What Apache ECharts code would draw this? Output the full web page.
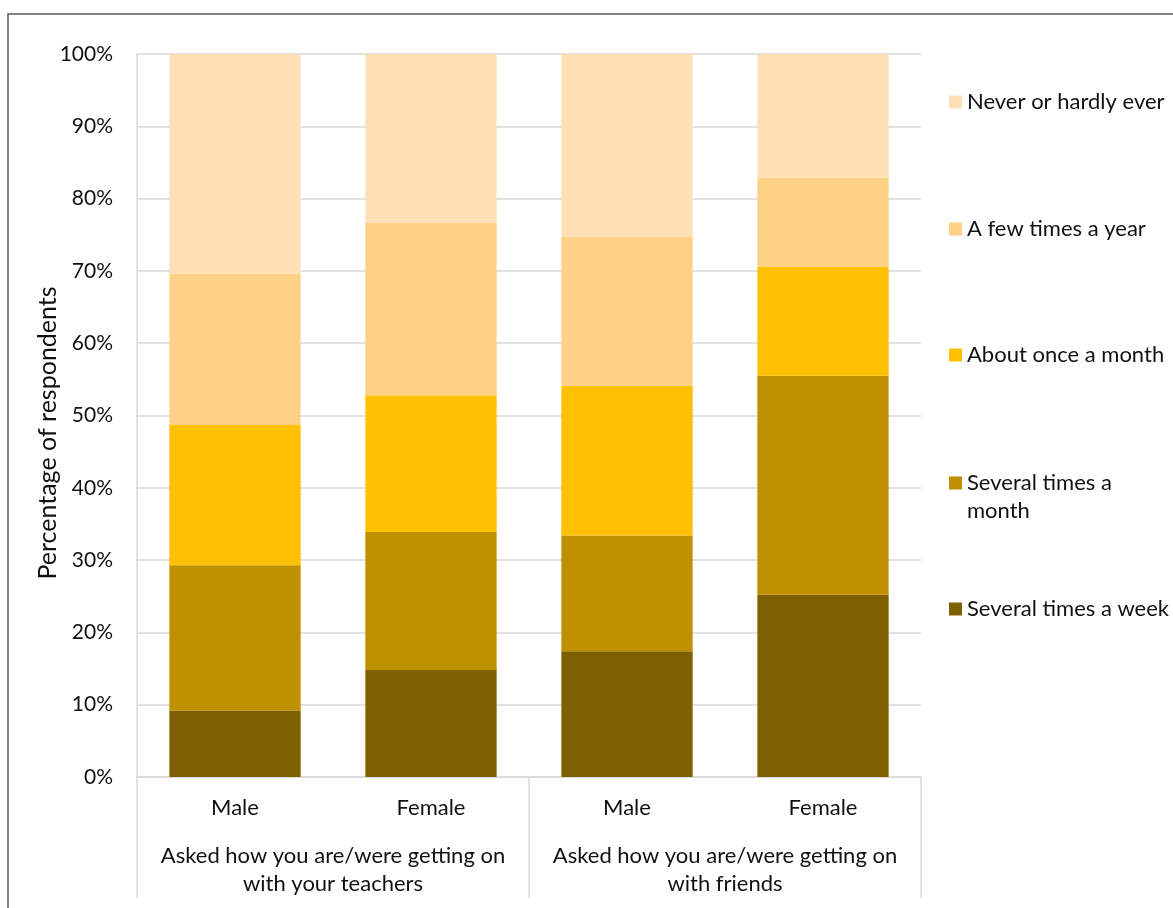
<!DOCTYPE html>
<html>
<head>
<meta charset="utf-8">
<script src="https://cdn.jsdelivr.net/npm/echarts@6/dist/echarts.min.js"></script>
<style>
  html, body { margin: 0; padding: 0; background: #fff; }
  #chart { width: 1173px; height: 908px; }
</style>
</head>
<body>
<div id="chart"></div>
<script>
// Respondent groups (inner axis) and question groups (outer axis)
const genders = ['Male', 'Female', 'Male', 'Female'];
const questions = [
  'Asked how you are/were getting on\nwith your teachers',
  'Asked how you are/were getting on\nwith friends'
];

// Frequency bands, bottom of the stack first (percent of respondents)
const seriesNames = [
  'Several times a week',
  'Several times a month',
  'About once a month',
  'A few times a year',
  'Never or hardly ever'
];
const severalWeek  = [9.2, 14.8, 17.4, 25.2];
const severalMonth = [20.1, 19.1, 16.0, 30.3];
const onceMonth    = [19.4, 18.9, 20.7, 15.1];
const fewYear      = [20.9, 23.9, 20.6, 12.3];
const never        = [30.4, 23.3, 25.3, 17.1];

const seriesValues = [severalWeek, severalMonth, onceMonth, fewYear, never];
const colors = ['#7F6000', '#BF9000', '#FFC000', '#FED186', '#FEE0B4'];
const legendLabels = [
  'Several times a week',
  'Several times a\nmonth',
  'About once a month',
  'A few times a year',
  'Never or hardly ever'
];
const yTicks = [0, 10, 20, 30, 40, 50, 60, 70, 80, 90, 100];

const FONT = 'Lato, "Open Sans", sans-serif';
const TEXT = '#111';
const GRID = '#D9D9D9';
const LINE_H = 28;

const chart = echarts.init(document.getElementById('chart'), null, { renderer: 'canvas' });

// One legend per band so the entries sit evenly down the right side.
// The wrapped entry uses a taller icon box with the square at its top,
// so the swatch lines up with the first line of its label.
const legendTops = [595, 469, 341, 215, 88];
const legends = seriesNames.map((name, i) => {
  const wrapped = legendLabels[i].includes('\n');
  return {
    data: [name],
    orient: 'vertical',
    left: 949,
    top: legendTops[i],
    padding: 0,
    itemWidth: 13,
    itemHeight: wrapped ? 41 : 13,
    icon: wrapped ? 'path://M0,0H13V13H0Z M0,41L0.01,41' : 'rect',
    selectedMode: false,
    textStyle: { fontFamily: FONT, fontSize: 22, color: TEXT, lineHeight: LINE_H },
    formatter: () => legendLabels[i]
  };
});

const option = {
  backgroundColor: '#fff',
  animation: false,
  textStyle: { fontFamily: FONT },
  graphic: [{
    type: 'rect',
    shape: { x: 8, y: 14, width: 1300, height: 1000 },
    style: { fill: 'none', stroke: '#595959', lineWidth: 1.5 },
    silent: true
  }],
  legend: legends,
  grid: { left: 137, right: 252, top: 54, bottom: 131 },
  xAxis: [
    {
      type: 'category',
      data: genders,
      position: 'bottom',
      axisLine: { show: true, lineStyle: { color: GRID, width: 1.5 } },
      axisTick: { show: false },
      axisLabel: { interval: 0, margin: 20, fontFamily: FONT, fontSize: 22, color: TEXT }
    },
    {
      type: 'category',
      data: questions,
      position: 'bottom',
      axisLine: { show: false },
      axisTick: { show: true, interval: 0, length: 121,
                  lineStyle: { color: GRID, width: 1.5 } },
      axisLabel: { interval: 0, hideOverlap: false, margin: 65, fontFamily: FONT,
                   fontSize: 22, color: TEXT, lineHeight: LINE_H, align: 'center' },
      splitLine: { show: false }
    }
  ],
  yAxis: {
    type: 'value',
    min: 0,
    max: 100,
    interval: 10,
    name: 'Percentage of respondents',
    nameLocation: 'middle',
    nameGap: 77,
    nameMoveOverlap: false,
    nameRotate: 90,
    nameTextStyle: { fontFamily: FONT, fontSize: 25, color: TEXT, padding: [0, 35, 0, 0] },
    axisLine: { show: true, lineStyle: { color: GRID, width: 1.5 } },
    axisTick: { show: false },
    splitLine: { show: true, lineStyle: { color: GRID, width: 1.5 } },
    axisLabel: {
      margin: 24,
      fontFamily: FONT,
      fontSize: 21,
      color: TEXT,
      formatter: v => (yTicks.includes(v) ? v + '%' : '')
    }
  },
  series: seriesValues.map((vals, i) => ({
    name: seriesNames[i],
    type: 'bar',
    stack: 'total',
    xAxisIndex: 0,
    barWidth: '67%',
    data: vals,
    itemStyle: { color: colors[i] },
    emphasis: { disabled: true }
  }))
};

chart.setOption(option);
</script>
</body>
</html>
